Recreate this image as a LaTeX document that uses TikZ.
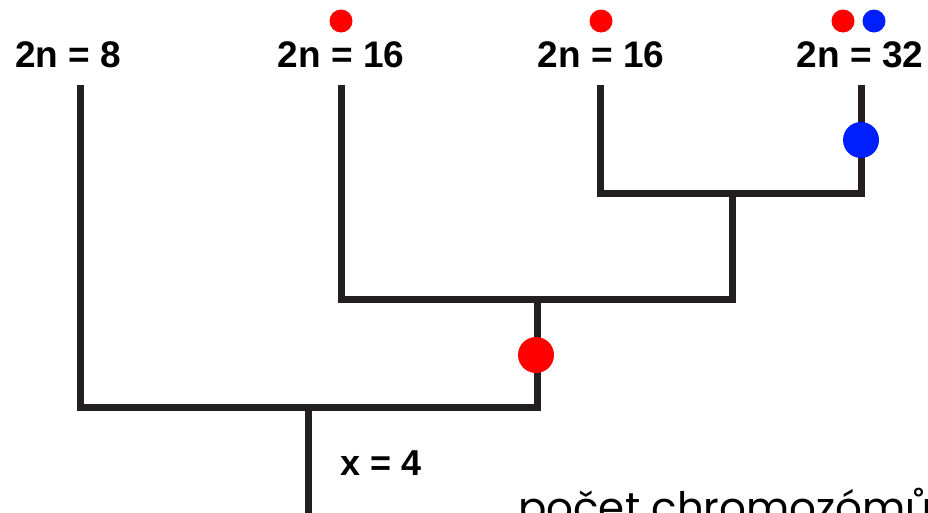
\documentclass[tikz,border=0pt]{standalone}
\usepackage{fontspec}
\setmainfont{Liberation Sans}
\newfontfamily\geofont{Poppins}
\definecolor{branch}{RGB}{35,31,32}
\definecolor{redmark}{RGB}{255,0,0}
\definecolor{bluemark}{RGB}{0,30,255}
\begin{document}
\begin{tikzpicture}[x=1pt,y=-1pt,
  leaflabel/.style={font=\fontsize{37}{40}\selectfont\bfseries, inner sep=0pt, anchor=center},
  branchline/.style={draw=branch, line width=7pt, line cap=butt, line join=miter},
  bigdot/.style={circle, inner sep=0pt, minimum size=36pt},
  smalldot/.style={circle, inner sep=0pt, minimum size=23pt},
]
\useasboundingbox (0,0) rectangle (928,512);
\clip (0,0) rectangle (928,512);
% leaf labels
\node[leaflabel] (l1) at (68,55) {2n = 8};
\node[leaflabel] (l2) at (341,55) {2n = 16};
\node[leaflabel] (l3) at (601,55) {2n = 16};
\node[leaflabel] (l4) at (860,55) {2n = 32};
% leaf tops
\coordinate (t1) at (80,85);
\coordinate (t2) at (341,85);
\coordinate (t3) at (600,85);
\coordinate (t4) at (861,85);
% internal nodes
\coordinate (n34) at (732,193);
\coordinate (n234) at (537,299);
\coordinate (n1234) at (308,407);
\coordinate (rootend) at (308,520);
% tree
\draw[branchline] (t3) |- (n34) -| (t4);
\draw[branchline] (t2) |- (n234) -| (n34);
\draw[branchline] (t1) |- (n1234) -| (n234);
\draw[branchline] (n1234) -- (rootend);
% event markers on branches
\node[bigdot, fill=bluemark] (b1) at (861,140) {};
\node[bigdot, fill=redmark] (r1) at (536,355) {};
% small markers above labels
\node[smalldot, fill=redmark] (s2) at (341,21) {};
\node[smalldot, fill=redmark] (s3) at (601,21) {};
\node[smalldot, fill=redmark] (s4a) at (843,21) {};
\node[smalldot, fill=bluemark] (s4b) at (874,21) {};
% texts
\node[font=\fontsize{36}{40}\selectfont\bfseries, anchor=west, inner sep=0pt] (x4) at (340,463) {x = 4};
\node[font=\geofont\fontsize{42}{46}\selectfont, anchor=base west, inner sep=0pt] (cnt) at (518,522) {počet chromozómů};
\end{tikzpicture}
\end{document}
